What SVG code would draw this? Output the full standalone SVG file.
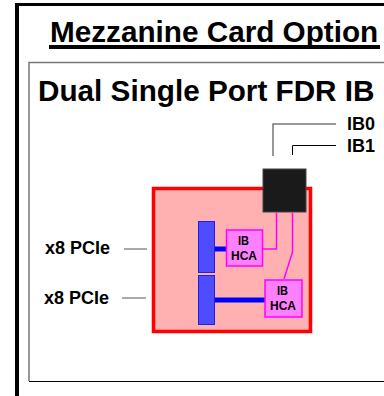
<svg xmlns="http://www.w3.org/2000/svg" width="384" height="396" viewBox="0 0 384 396">
<style>
text{font-family:"Liberation Sans",Arial,sans-serif;font-weight:700;fill:#000}
.t{font-size:29.700px}
.l{font-size:18px}
.h{font-size:13px}
.m{stroke:#ff00ff;stroke-width:1.5;fill:none}
.b{fill:#4d4dff;stroke:#2020e0;stroke-width:1}
.n{fill:#ff80ff;stroke:#ff00ff;stroke-width:1.5}
</style>
<rect width="384" height="396" fill="#fff"/>
<path d="M384 4.500H17V396" fill="none" stroke="#000" stroke-width="3"/>
<path d="M17 3V396" fill="none" stroke="#000" stroke-width="4"/>
<text class="t" x="50" y="42">Mezzanine Card Option</text>
<rect x="49" y="45" width="331" height="4" fill="#000"/>
<path d="M384 62.500H29V381" fill="none" stroke="#777" stroke-width="1.500"/>
<path d="M29 381.500H384" fill="none" stroke="#000" stroke-width="1"/>
<text class="t" x="38" y="101">Dual Single Port FDR IB</text>
<g id="card"><rect x="153.500" y="188.500" width="157" height="143" fill="#ffb0b0" stroke="#ff0000" stroke-width="3.500"/></g>
<g id="connectors">
<path d="M273 156V124H336" fill="none" stroke="#777" stroke-width="1.500"/>
<path d="M292.500 155V145.500H336" fill="none" stroke="#000" stroke-width="1"/>
<path d="M124 249H147M122 298H146" fill="none" stroke="#555" stroke-width="1"/>
<path d="M276.500 213V249H263" class="m"/>
<path d="M292.500 213V252L284 279" class="m"/>
<path d="M214 249H226" stroke="#0000ff" stroke-width="5" fill="none"/>
<path d="M214 300H265" stroke="#0000ff" stroke-width="5" fill="none"/>
</g>
<g id="asic"><rect x="263" y="169" width="43" height="43" fill="#1a1a1a" stroke="#444" stroke-width="1"/></g>
<g id="bus0"><rect x="198.500" y="221.500" width="16" height="51" class="b"/></g>
<g id="bus1"><rect x="198.500" y="275.500" width="16" height="49" class="b"/></g>
<g id="hca0"><rect x="226.500" y="230" width="36" height="36" class="n"/><text class="h" x="238" y="245" textLength="11" lengthAdjust="spacingAndGlyphs">IB</text><text class="h" x="231" y="260" textLength="26" lengthAdjust="spacingAndGlyphs">HCA</text></g>
<g id="hca1"><rect x="265" y="280" width="37" height="37" class="n"/><text class="h" x="277" y="295" textLength="11" lengthAdjust="spacingAndGlyphs">IB</text><text class="h" x="270" y="310" textLength="26" lengthAdjust="spacingAndGlyphs">HCA</text></g>
<g id="labels">
<text class="l" x="347" y="130">IB0</text>
<text class="l" x="347" y="152">IB1</text>
<text class="l" x="45" y="254">x8 PCIe</text>
<text class="l" x="44" y="304">x8 PCIe</text>
</g>
</svg>
